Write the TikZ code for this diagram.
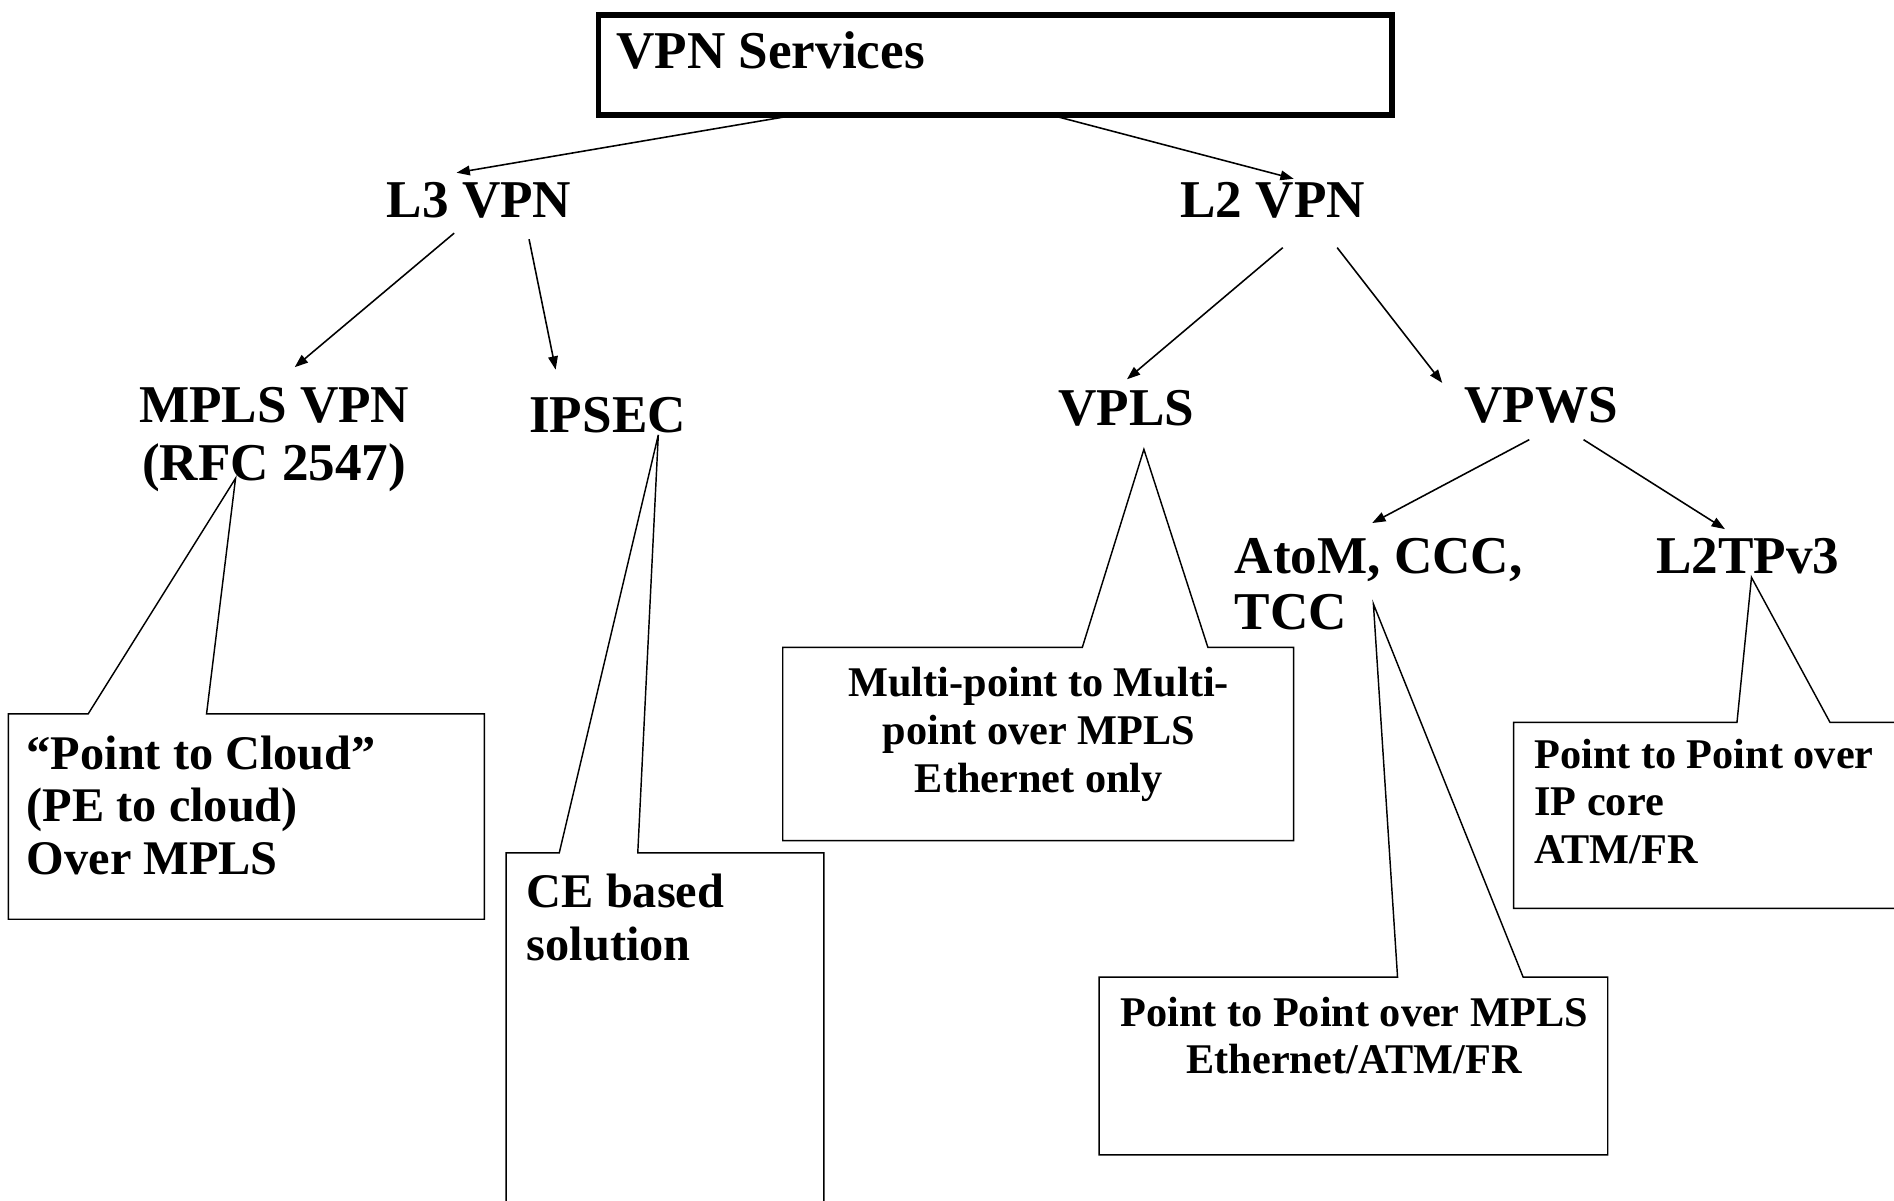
\documentclass[tikz,border=0pt]{standalone}
\usepackage{fontspec}
\setmainfont{Liberation Serif}
\usetikzlibrary{arrows.meta}
\begin{document}
\begin{tikzpicture}[x=1pt,y=-1pt,
  hdr/.style={font=\fontsize{44}{48}\selectfont\bfseries, inner sep=0pt, anchor=base west},
  big/.style={font=\fontsize{40}{43.5}\selectfont\bfseries, inner sep=0pt, align=left, anchor=base west},
  small/.style={font=\fontsize{35}{39.5}\selectfont\bfseries, inner sep=0pt},
  arr/.style={line width=1.3pt, -{Triangle[length=11pt,width=8pt]}},
  callout/.style={line width=1.2pt, line join=miter},
]
\useasboundingbox (0,0) rectangle (1568,994);
\clip (0,0) rectangle (1568,994);

% top box
\node (top) [draw, line width=4.5pt, anchor=north west, minimum width=657pt, minimum height=83pt, inner sep=0pt] at (493,10) {};
\node[hdr] (toptxt) at (510,57) {VPN Services};

% level nodes (base anchor of a multi-line node = last line)
\node[hdr] (l3) at (320,180) {L3 VPN};
\node[hdr] (l2) at (977,180) {L2 VPN};
\node[hdr, align=center, anchor=base] (mpls) at (227,398) {MPLS VPN\\(RFC 2547)};
\node[hdr] (ipsec) at (438,358) {IPSEC};
\node[hdr] (vpls) at (876,352) {VPLS};
\node[hdr] (vpws) at (1212,350) {VPWS};
\node[hdr, align=left, font=\fontsize{44}{46}\selectfont\bfseries] (atom) at (1022,521) {AtoM, CCC,\\TCC};
\node[hdr] (l2tp) at (1371,475) {L2TPv3};

% arrow end points
\coordinate (t1) at (654,96);  \coordinate (e1) at (378,143);
\coordinate (t2) at (873,96);  \coordinate (e2) at (1071,148);
\coordinate (s3) at (376,193); \coordinate (e3) at (244,304);
\coordinate (s4) at (438,198); \coordinate (e4) at (460,306);
\coordinate (s5) at (1062,205); \coordinate (e5) at (933,314);
\coordinate (s6) at (1107,205); \coordinate (e6) at (1194,317);
\coordinate (s7) at (1266,364); \coordinate (e7) at (1136,433);
\coordinate (s8) at (1311,364); \coordinate (e8) at (1428,438);

\draw[arr] (t1) -- (e1);
\draw[arr] (t2) -- (e2);
\draw[arr] (s3) -- (e3);
\draw[arr] (s4) -- (e4);
\draw[arr] (s5) -- (e5);
\draw[arr] (s6) -- (e6);
\draw[arr] (s7) -- (e7);
\draw[arr] (s8) -- (e8);

% callouts
\draw[callout] (73,591) -- (195,396) -- (171,591) -- (401,591) -- (401,761) -- (7,761) -- (7,591) -- cycle;
\draw[callout] (463,706) -- (545,360) -- (528,706) -- (682,706) -- (682,1010) -- (419,1010) -- (419,706) -- cycle;
\draw[callout] (896,536) -- (947,372) -- (1000,536) -- (1071,536) -- (1071,696) -- (648,696) -- (648,536) -- cycle;
\draw[callout] (1157,809) -- (1137,500) -- (1261,809) -- (1331,809) -- (1331,956) -- (910,956) -- (910,809) -- cycle;
\draw[callout] (1438,598) -- (1450,478) -- (1515,598) -- (1590,598) -- (1590,752) -- (1253,752) -- (1253,598) -- cycle;

\node[big] (c1) at (22,724) {“Point to Cloud”\\(PE to cloud)\\Over MPLS};
\node[big] (c2) at (436,795) {CE based\\solution};
\node[small, align=center, anchor=base] (c3) at (860,656) {Multi-point to Multi-\\point over MPLS\\Ethernet only};
\node[small, align=center, anchor=base] (c4) at (1121,889) {Point to Point over MPLS\\Ethernet/ATM/FR};
\node[small, align=left, anchor=base west] (c5) at (1270,715) {Point to Point over\\IP core\\ATM/FR};
\end{tikzpicture}
\end{document}
